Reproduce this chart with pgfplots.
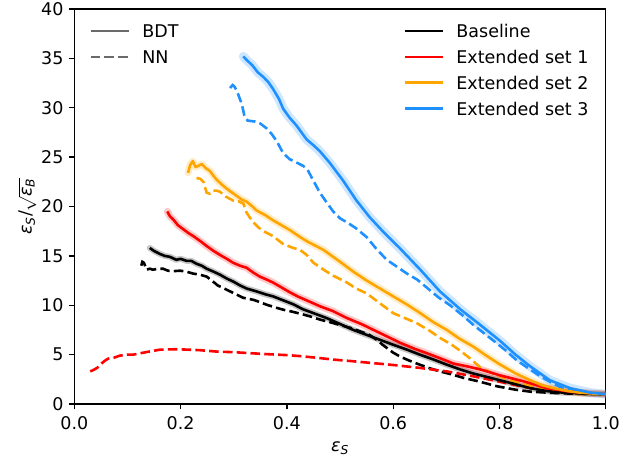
\documentclass[border=0pt]{standalone}
\usepackage{fontspec}
\setmainfont{DejaVu Sans}
\usepackage{pgfplots}
\usepackage{pgfplotstable}
\pgfplotsset{compat=1.18}
\definecolor{cblue}{HTML}{1E90FF}
\definecolor{corange}{HTML}{FFA500}
\definecolor{cred}{HTML}{FF0000}
\definecolor{cgray}{HTML}{6A6A6A}
\newcommand{\fs}{\fontsize{17.5bp}{21bp}\selectfont}

\pgfplotstableread{
x y
0.318 35.2
0.325 34.8
0.335 34.3
0.345 33.6
0.356 33.1
0.365 32.6
0.374 31.9
0.385 30.9
0.393 29.9
0.405 29.0
0.418 28.2
0.437 26.8
0.450 26.2
0.462 25.6
0.481 24.4
0.506 22.6
0.531 20.6
0.556 18.9
0.582 17.4
0.612 15.8
0.651 13.6
0.688 11.4
0.726 9.6
0.764 8.0
0.801 6.4
0.830 5.0
0.858 3.8
0.895 2.4
0.933 1.6
0.971 1.15
1.0 1.0
}\bluebdt

\pgfplotstableread{
x y
0.293 32.0
0.298 32.3
0.302 32.1
0.308 31.4
0.315 30.4
0.320 29.2
0.326 28.7
0.340 28.6
0.350 28.4
0.362 27.9
0.372 27.3
0.381 26.6
0.393 25.4
0.405 24.8
0.420 24.4
0.431 24.1
0.440 23.6
0.450 22.6
0.462 21.4
0.475 20.4
0.487 19.5
0.500 18.8
0.513 18.4
0.530 17.8
0.550 16.9
0.570 15.6
0.588 14.6
0.607 13.9
0.626 13.2
0.645 12.6
0.663 11.8
0.685 10.8
0.707 10.0
0.730 9.0
0.751 8.0
0.770 7.2
0.789 6.4
0.810 5.5
0.833 4.4
0.855 3.6
0.877 2.8
0.900 2.1
0.920 1.6
0.945 1.3
0.965 1.15
1.0 1.0
}\bluenn

\pgfplotstableread{
x y
0.214 23.4
0.218 24.2
0.223 24.6
0.228 24.0
0.233 24.1
0.240 24.3
0.247 23.9
0.255 23.6
0.262 23.1
0.268 22.7
0.278 22.2
0.287 21.8
0.297 21.4
0.305 21.1
0.315 20.7
0.324 20.5
0.333 20.1
0.343 19.6
0.360 19.1
0.374 18.6
0.390 18.1
0.406 17.6
0.425 16.9
0.437 16.5
0.469 15.6
0.500 14.4
0.525 13.4
0.550 12.5
0.575 11.7
0.600 10.9
0.625 10.1
0.651 9.2
0.675 8.3
0.701 7.5
0.725 6.6
0.751 5.8
0.775 4.9
0.801 4.0
0.830 3.1
0.858 2.4
0.880 1.9
0.902 1.6
0.930 1.3
0.952 1.15
0.98 1.05
1.0 1.0
}\orangebdt

\pgfplotstableread{
x y
0.230 22.9
0.237 22.8
0.243 22.5
0.249 21.4
0.255 21.3
0.261 21.6
0.268 21.6
0.274 21.5
0.285 21.0
0.299 20.6
0.310 20.5
0.318 20.3
0.324 19.4
0.330 18.9
0.337 18.4
0.346 17.9
0.356 17.5
0.374 17.0
0.393 16.2
0.412 15.8
0.425 15.6
0.437 15.1
0.450 14.3
0.469 13.6
0.487 13.0
0.513 12.3
0.530 11.7
0.550 11.2
0.575 10.2
0.600 9.2
0.622 8.7
0.644 8.2
0.669 7.4
0.688 6.7
0.710 6.0
0.726 5.4
0.745 4.6
0.764 3.7
0.795 2.9
0.826 2.3
0.860 1.8
0.889 1.4
0.933 1.15
0.97 1.0
1.0 1.0
}\orangenn

\pgfplotstableread{
x y
0.175 19.5
0.180 19.0
0.186 18.7
0.195 18.1
0.205 17.7
0.215 17.3
0.224 17.0
0.237 16.5
0.249 16.0
0.262 15.5
0.274 15.1
0.287 14.7
0.299 14.3
0.312 14.0
0.324 13.8
0.337 13.3
0.349 12.9
0.362 12.6
0.374 12.3
0.390 11.8
0.406 11.3
0.420 10.9
0.437 10.5
0.462 9.9
0.487 9.4
0.513 8.7
0.540 8.1
0.563 7.5
0.590 6.8
0.613 6.2
0.640 5.6
0.663 5.15
0.690 4.6
0.713 4.1
0.740 3.8
0.764 3.5
0.801 2.9
0.845 2.3
0.889 1.6
0.933 1.25
0.971 1.1
1.0 1.0
}\redbdt

\pgfplotstableread{
x y
0.030 3.3
0.038 3.5
0.044 3.7
0.051 4.1
0.058 4.4
0.064 4.6
0.075 4.7
0.086 4.9
0.100 5.0
0.111 5.0
0.130 5.2
0.145 5.35
0.161 5.5
0.192 5.55
0.215 5.5
0.236 5.45
0.270 5.3
0.299 5.25
0.330 5.15
0.362 5.05
0.400 4.95
0.425 4.85
0.462 4.65
0.487 4.5
0.520 4.35
0.550 4.2
0.600 3.95
0.651 3.65
0.701 3.3
0.751 2.8
0.801 2.25
0.858 1.6
0.920 1.25
0.970 1.1
1.0 1.0
}\rednn

\pgfplotstableread{
x y
0.142 15.8
0.150 15.5
0.161 15.2
0.170 15.0
0.180 14.9
0.192 14.6
0.200 14.7
0.211 14.5
0.220 14.5
0.230 14.2
0.240 14.0
0.249 13.7
0.262 13.4
0.274 13.1
0.287 12.7
0.299 12.4
0.312 12.0
0.324 11.7
0.343 11.4
0.360 11.1
0.374 10.9
0.393 10.5
0.412 10.1
0.430 9.6
0.450 9.2
0.475 8.7
0.500 8.1
0.525 7.5
0.550 7.0
0.575 6.5
0.600 6.0
0.626 5.5
0.650 5.0
0.676 4.5
0.700 4.0
0.726 3.5
0.750 3.1
0.776 2.75
0.801 2.4
0.830 2.0
0.858 1.6
0.890 1.3
0.920 1.15
0.960 1.05
1.0 1.0
}\blackbdt

\pgfplotstableread{
x y
0.126 14.0
0.128 14.4
0.131 14.3
0.136 13.6
0.142 13.7
0.148 13.6
0.158 13.7
0.167 13.7
0.176 13.5
0.186 13.45
0.199 13.5
0.211 13.4
0.224 13.2
0.236 13.1
0.249 12.9
0.261 12.4
0.270 12.0
0.280 11.75
0.299 11.25
0.318 10.75
0.337 10.55
0.350 10.3
0.362 10.05
0.380 9.75
0.393 9.55
0.410 9.35
0.425 9.15
0.445 8.85
0.462 8.55
0.480 8.3
0.500 8.0
0.520 7.7
0.538 7.35
0.555 7.0
0.569 6.5
0.580 6.0
0.590 5.6
0.600 5.2
0.613 4.8
0.630 4.4
0.651 3.96
0.670 3.6
0.688 3.3
0.710 3.0
0.732 2.65
0.760 2.3
0.795 1.8
0.830 1.45
0.858 1.25
0.890 1.15
0.920 1.08
0.970 1.0
1.0 1.0
}\blacknn

\begin{document}
\begin{tikzpicture}
\pgfplotsset{
  base/.style={width=531.5bp, height=395bp, scale only axis,
    xmin=0, xmax=1, ymin=0, ymax=40},
  leg/.style={legend style={draw=none, fill=none, inner sep=0pt, outer sep=0pt,
      row sep=8.3bp, column sep=12bp, font=\fs,
      nodes={inner sep=0pt, text height=13.3bp, text depth=4.2bp, anchor=base west}},
    legend cell align=left,
    legend image code/.code={\draw[##1] (0bp,6.6bp) -- (38.5bp,6.6bp);}},
  bdt/.style={line width=2.6bp, line join=round},
  nn/.style={line width=2.6bp, dash pattern=on 9.6bp off 4.2bp},
  band/.style={line width=#1, line join=round, line cap=round, opacity=0.22, forget plot},
}
\begin{axis}[base, leg,
  axis line style={line width=1.3bp},
  xtick={0,0.2,0.4,0.6,0.8,1.0},
  xticklabels={0.0,0.2,0.4,0.6,0.8,1.0},
  ytick={0,5,10,15,20,25,30,35,40},
  yticklabels={0,5,10,15,20,25,30,35,40},
  tick align=outside, tick pos=left, major tick length=5.5bp,
  tick style={line width=1.3bp, black},
  xticklabel style={font=\fs, anchor=north, inner sep=0pt, yshift=-7.2bp},
  yticklabel style={font=\fs, anchor=east, inner sep=0pt, xshift=-5.1bp},
  every axis x label/.style={at={(axis description cs:0.5,-0.120)}, anchor=base, font=\fs},
  every axis y label/.style={at={(axis description cs:-0.0801,0.5)}, rotate=90, anchor=base, font=\fs, inner sep=0pt},
  xlabel={{\itshape ε\textsubscript{S}}},
  ylabel={{\itshape ε\textsubscript{S}}/$\sqrt{\mbox{\itshape ε\textsubscript{B}}}$},
  legend style={at={(axis description cs:0.619,0.961)}, anchor=north west},
]
\addplot[band=6bp, black] table {\blackbdt};
\addplot[band=7bp, cred] table {\redbdt};
\addplot[band=7bp, corange] table {\orangebdt};
\addplot[band=9bp, cblue] table {\bluebdt};

\addplot[nn, black, forget plot] table {\blacknn};
\addplot[nn, cred, forget plot] table {\rednn};
\addplot[nn, corange, forget plot] table {\orangenn};
\addplot[nn, cblue, forget plot] table {\bluenn};

\addplot[bdt, black] table {\blackbdt};
\addlegendentry{Baseline}
\addplot[bdt, cred] table {\redbdt};
\addlegendentry{Extended set 1}
\addplot[bdt, corange] table {\orangebdt};
\addlegendentry{Extended set 2}
\addplot[bdt, cblue] table {\bluebdt};
\addlegendentry{Extended set 3}
\end{axis}

\begin{axis}[base, leg, hide axis,
  legend style={at={(axis description cs:0.0282,0.961)}, anchor=north west},
]
\addlegendimage{bdt, cgray}
\addlegendentry{BDT}
\addlegendimage{nn, cgray}
\addlegendentry{NN}
\end{axis}
\pgfresetboundingbox
\path (-74.3bp,-57bp) rectangle (546.7bp,404bp);
\end{tikzpicture}
\end{document}
